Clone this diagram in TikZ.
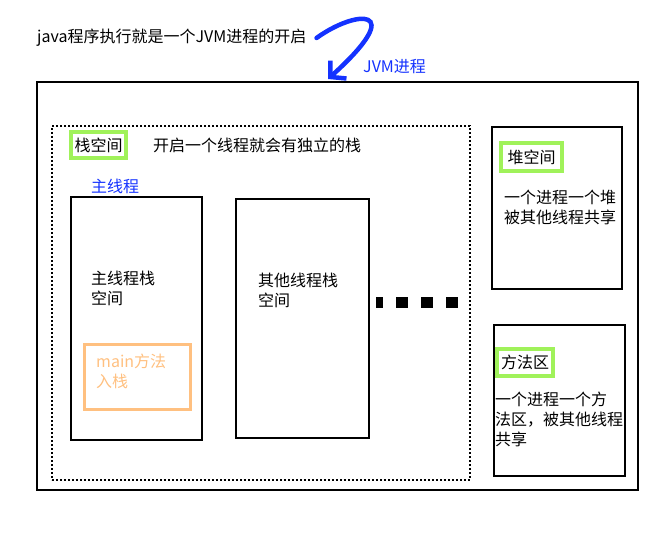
\documentclass[tikz,border=0pt]{standalone}
\usepackage{fontspec}
\setmainfont{Noto Sans CJK SC}
\usetikzlibrary{arrows.meta,positioning,calc}
\definecolor{jvmblue}{RGB}{20,50,255}
\definecolor{mark}{RGB}{160,242,90}
\definecolor{peach}{RGB}{255,192,128}
\tikzset{
    %Define style for boxes
    area/.style={
        rectangle,
        draw=black, line width=2pt,
        anchor=north west,
        inner sep=0pt,
    },
    tag/.style={
        rectangle,
        draw=mark, line width=4pt,
        fill=white,
        anchor=north west,
        inner sep=0pt,
        font=\fontsize{16}{20}\selectfont,
    },
    txt/.style={
        draw = none,
        align = left,
        anchor = north west,
        inner sep = 0pt,
        font = \fontsize{16}{20}\selectfont,
    },
}

\begin{document}
\begin{tikzpicture}[x=1pt,y=-1pt]
		\useasboundingbox (0,0) rectangle (660,532);
		\node[txt,anchor=west] (note) at (37,38) {java程序执行就是一个JVM进程的开启};
		\node[txt,anchor=west,text=jvmblue] (jvmtxt) at (363,67) {JVM进程};
		\coordinate (tip) at (328,79);

		\node[area,minimum width=601,minimum height=408] (jvm) at (36,81) {};
		\node[area,line width=2pt,dash pattern=on 2pt off 2pt,minimum width=418,minimum height=354] (stack) at (51,125) {};
		\node[area,minimum width=131,minimum height=243] (main) at (70,196) {};
		\node[area,minimum width=133,minimum height=239] (other) at (235,198) {};
		\node[area,minimum width=130,minimum height=162] (heap) at (491,126) {};
		\node[area,minimum width=131,minimum height=151] (method) at (493,324) {};
		\node[area,draw=peach,line width=2.5pt,minimum width=106,minimum height=65] (push) at (83,343) {};

		\node[tag,minimum width=55,minimum height=26] (stacktag) at (69,130) {栈空间};
		\node[txt,anchor=west] (stacknote) at (153,145) {开启一个线程就会有独立的栈};
		\node[txt,anchor=west,text=jvmblue] (mainname) at (91,186) {主线程};
		\node[txt] (maintxt) at (91,271) {主线程栈\\空间};
		\node[txt] (othertxt) at (258,273) {其他线程栈\\空间};
		\node[txt,text=peach] (pushtxt) at (96,354) {main方法\\入栈};
		\node[tag,minimum width=61,minimum height=28] (heaptag) at (499,141) {堆空间};
		\node[txt] (heaptxt) at (504,190) {一个进程一个堆\\被其他线程共享};
		\node[tag,minimum width=56,minimum height=27] (methodtag) at (495,347) {方法区};
		\node[txt] (methodtxt) at (495,392) {一个进程一个方\\法区，被其他线程\\共享};

		\draw[line width=11pt,dash pattern=on 12pt off 13pt,dash phase=5pt] (376,302) -- (460,302);
		\draw[jvmblue,line width=4.5pt,line cap=round,-{Straight Barb[length=11pt,width=24pt]}]
			($(note.east)+(10,0)$) .. controls (355,10) and (410,5) .. (tip);
	\end{tikzpicture}
\end{document}
